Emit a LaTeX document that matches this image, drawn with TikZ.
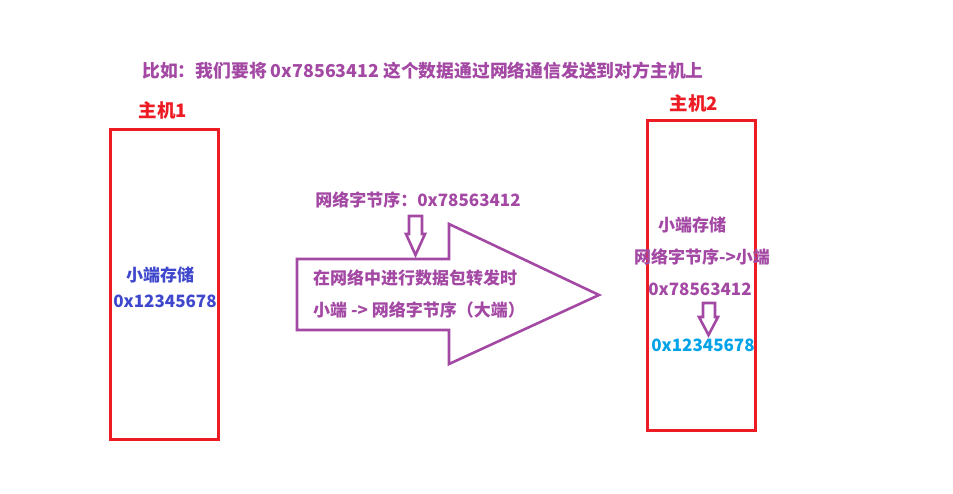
\documentclass[tikz,border=0pt]{standalone}
\usepackage{fontspec}
\usepackage{xcolor}
\usepackage{tikz}
\usetikzlibrary{positioning}
\newfontfamily\cjk{Noto Sans CJK SC}
\definecolor{plum}{HTML}{A349A4}
\definecolor{hostred}{HTML}{ED1C24}
\definecolor{indigo}{HTML}{3F48CC}
\definecolor{sky}{HTML}{00A2E8}

\begin{document}
\begin{tikzpicture}[x=1pt,y=-1pt,font=\cjk\bfseries\fontsize{17}{20}\selectfont]
\tikzset{host/.style={draw=hostred,line width=3pt,minimum width=108pt,minimum height=310pt,inner sep=0pt},
  hostlbl/.style={text=hostred,inner sep=0pt,font=\cjk\bfseries\fontsize{18.5}{22}\selectfont},
  txt/.style={text=plum,inner sep=0pt},
  blk/.style={draw=plum,line width=2.6pt,line join=miter}}
\useasboundingbox (0,0) rectangle (953,493);
\node[txt,font=\cjk\bfseries\fontsize{17.8}{21}\selectfont] (title) at (423,71) {比如：我们要将 0x78563412 这个数据通过网络通信发送到对方主机上};
% host 1
\node[hostlbl] (h1lbl) at (163,110) {主机1};
\node[host] (host1) at (164,284) {};
\node[txt,text=indigo] (h1a) at (160,275) {小端存储};
\node[txt,text=indigo] (h1b) at (165,301) {0x12345678};
% conversion
\node[txt] (net) at (418,200) {网络字节序：0x78563412};
\draw[blk] (409,216) -- (422,216) -- (422,234) -- (425,234) -- (415.5,255) -- (406,234) -- (409,234) -- cycle;
\draw[blk] (297,259) -- (449,259) -- (449,224) -- (599,295) -- (449,364) -- (449,330) -- (297,330) -- cycle;
\node[txt,anchor=west] (fwd) at (313,278) {在网络中进行数据包转发时};
\node[txt,anchor=west] (conv) at (313,310) {小端 -> 网络字节序（大端）};
% host 2
\node[hostlbl] (h2lbl) at (694,103) {主机2};
\node[host] (host2) at (701,275.5) {};
\node[txt] (h2a) at (692,225) {小端存储};
\node[txt] (h2b) at (702,257) {网络字节序->小端};
\node[txt] (h2c) at (700,289) {0x78563412};
\draw[blk] (703,303) -- (715,303) -- (715,317) -- (718,317) -- (708.5,335) -- (699,317) -- (703,317) -- cycle;
\node[txt,text=sky] (h2d) at (703,345) {0x12345678};
\end{tikzpicture}
\end{document}
